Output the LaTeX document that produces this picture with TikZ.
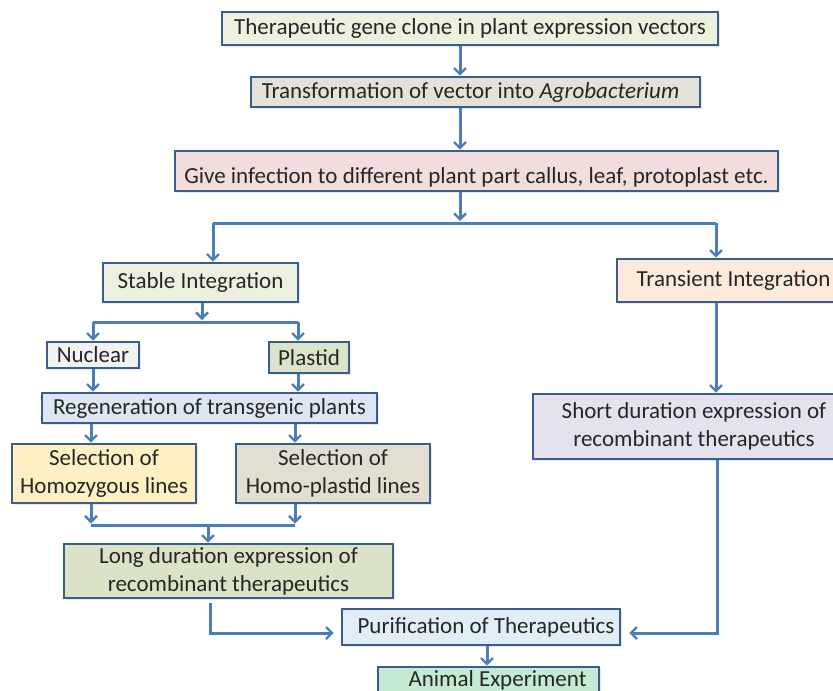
\documentclass[tikz,border=0pt]{standalone}
\usepackage{fontspec}
\setmainfont{Carlito}
\usetikzlibrary{arrows.meta,shadows}
\definecolor{bd}{RGB}{58,94,138}
\definecolor{ar}{RGB}{74,126,187}
\definecolor{tx}{RGB}{38,38,38}
\definecolor{fA}{RGB}{235,241,222}
\definecolor{fB}{RGB}{228,226,214}
\definecolor{fC}{RGB}{242,221,220}
\definecolor{fD}{RGB}{253,234,218}
\definecolor{fE}{RGB}{242,242,242}
\definecolor{fF}{RGB}{219,228,203}
\definecolor{fG}{RGB}{221,230,242}
\definecolor{fH}{RGB}{255,240,195}
\definecolor{fI}{RGB}{226,223,210}
\definecolor{fJ}{RGB}{229,225,237}
\definecolor{fK}{RGB}{218,227,200}
\definecolor{fL}{RGB}{225,238,247}
\definecolor{fM}{RGB}{196,234,212}
\begin{document}
\begin{tikzpicture}[x=1pt,y=-1pt,
  box/.style={draw=bd, line width=2.6pt, text=tx, align=center, inner sep=0pt,
    font=\fontsize{23}{28}\selectfont,
    drop shadow={shadow xshift=1.5pt, shadow yshift=-2pt, opacity=0.18}},
  arr/.style={draw=ar, line width=3pt, -{Straight Barb[length=6pt,width=12pt,line width=2.4pt]}},
  ln/.style={draw=ar, line width=3pt}]
\useasboundingbox (0,0) rectangle (833,691);
\clip (0,0) rectangle (833,691);
\fill[white] (0,0) rectangle (833,691);

% boxes
\node[box, fill=fA, minimum width=496pt, minimum height=33pt] (box1) at (470,28.5) {Therapeutic gene clone in plant expression vectors};
\node[box, fill=fB, minimum width=449pt, minimum height=30pt] (box2) at (475.5,92) {Transformation of vector into \textit{Agrobacterium}\hspace{10pt}};
\node[box, fill=fC, minimum width=603pt, minimum height=40pt, text height=30pt, text depth=6pt] (box3) at (476.5,171) {Give infection to different plant part callus, leaf, protoplast etc.};
\node[box, fill=fA, minimum width=195pt, minimum height=39pt] (stable) at (200.5,282.5) {Stable Integration};
\node[box, fill=fD, minimum width=233pt, minimum height=43pt] (transient) at (733.5,280.5) {Transient Integration};
\node[box, fill=fE, minimum width=92pt, minimum height=26pt] (nuclear) at (93,355) {Nuclear};
\node[box, fill=fF, minimum width=80pt, minimum height=31pt] (plastid) at (309,357.5) {Plastid};
\node[box, fill=fG, minimum width=335pt, minimum height=30pt] (regen) at (209.5,408) {Regeneration of transgenic plants};
\node[box, fill=fH, minimum width=184pt, minimum height=59pt] (homoz) at (104,473.5) {Selection of\\Homozygous lines};
\node[box, fill=fI, minimum width=194pt, minimum height=59pt] (homop) at (333,473.5) {Selection of\\Homo-plastid lines};
\node[box, fill=fJ, minimum width=322pt, minimum height=65pt] (short) at (694,426.5) {Short duration expression of\\recombinant therapeutics};
\node[box, fill=fK, minimum width=329pt, minimum height=54pt] (long) at (228.5,571) {Long duration expression of\\recombinant therapeutics};
\node[box, fill=fL, minimum width=278pt, minimum height=36pt] (purif) at (481,627) {\hspace{10pt}Purification of Therapeutics};
\node[box, fill=fM, minimum width=221pt, minimum height=40pt, text height=16pt, text depth=17pt] (animal) at (488.5,687) {\hspace{18pt}Animal Experiment};

% helper coordinates
\coordinate (c0) at (460,0);
\coordinate (j1) at (460,221);
\coordinate (j1L) at (213,223);
\coordinate (j1R) at (716,223);
\coordinate (j2) at (202,320);
\coordinate (j2L) at (93,322);
\coordinate (j2R) at (298,322);
\coordinate (k1) at (91,0);
\coordinate (k2) at (295,0);
\coordinate (j3L) at (91,525);
\coordinate (j3R) at (295,525);
\coordinate (j3) at (208,525);
\coordinate (m1) at (210,633);
\coordinate (m2) at (717,633);
\coordinate (c4) at (487,0);

% connectors
\draw[arr] (box1.south -| c0) -- (box2.north -| c0);
\draw[arr] (box2.south -| c0) -- (box3.north -| c0);
\draw[arr] (box3.south -| j1) -- (j1);
\draw[ln] (j1L) -- (j1R);
\draw[arr] (j1L) -- (stable.north -| j1L);
\draw[arr] (j1R) -- (transient.north -| j1R);
\draw[arr] (stable.south -| j2) -- (j2);
\draw[ln] (j2L) -- (j2R);
\draw[arr] (j2L) -- (nuclear.north -| j2L);
\draw[arr] (j2R) -- (plastid.north -| j2R);
\draw[arr] (nuclear.south -| j2L) -- (regen.north -| j2L);
\draw[arr] (plastid.south -| j2R) -- (regen.north -| j2R);
\draw[arr] (regen.south -| k1) -- (homoz.north -| k1);
\draw[arr] (regen.south -| k2) -- (homop.north -| k2);
\draw[arr] (homoz.south -| k1) -- ([yshift=1.5pt]j3L);
\draw[arr] (homop.south -| k2) -- ([yshift=1.5pt]j3R);
\draw[ln] (j3L) -- (j3R);
\draw[arr] (j3) -- (long.north -| j3);
\draw[arr] (transient.south -| j1R) -- (short.north -| j1R);
\draw[arr, shorten <=4pt, shorten >=7pt] (long.south -| m1) -- (m1) -- (purif.west |- m1);
\draw[arr, shorten >=8pt] (short.south -| m2) -- (m2) -- (purif.east |- m2);
\draw[arr] (purif.south -| c4) -- (animal.north -| c4);
\end{tikzpicture}
\end{document}
